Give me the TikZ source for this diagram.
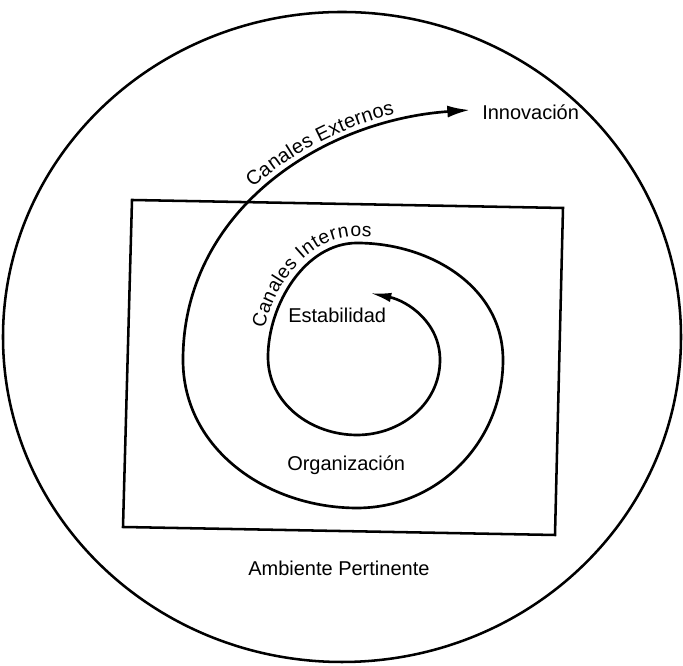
\documentclass[tikz,border=0pt]{standalone}
\usepackage{fontspec}
\setmainfont{Liberation Sans}
\usetikzlibrary{arrows.meta,decorations.text}
\begin{document}
\begin{tikzpicture}[x=0.75pt,y=0.75pt,
  lbl/.style={font=\fontsize{15}{18}\selectfont, inner sep=0pt, anchor=base west},
  ln/.style={line width=1.9pt},
  spiral/.style={line width=2pt, {Latex[length=16pt,width=7pt]}-{Latex[length=17pt,width=9pt]}},
  curvetext/.style={decorate, decoration={text along path, raise=#1}}]
\useasboundingbox (0,0) rectangle (683,666);
% outer environment
\draw[ln] (342,329) ellipse [x radius=339, y radius=325];
% organisation boundary
\draw[ln] (132,466) -- (563,458) -- (555,131) -- (123,139) -- cycle;
% labels
\node[lbl] (innov) at (482,546) {Innovación};
\node[lbl] (estab) at (288,343) {Estabilidad};
\node[lbl] (organ) at (287,195) {Organización};
\node[lbl] (amb) at (248,90) {Ambiente Pertinente};
% spiral
\coordinate (sin) at (370,373);
\coordinate (sout) at ([xshift=-9]innov.west |- 0,556);
\draw[spiral] (sin) to[out=-12,in=90] (440,306)
  to[out=-90,in=0] (357,231)
  to[out=180,in=-90] (268,309)
  to[out=90,in=180,looseness=0.92] (357,423)
  to[out=0,in=90] (503,306)
  to[out=-90,in=0] (357,158)
  to[out=180,in=-90] (183,306)
  to[out=90,in=184] (sout);
% text along the spiral
\path[curvetext=6pt, decoration={text align={left indent=141pt},
      text={|\fontsize{15}{18}\selectfont|Canales Externos}}]
  (183,306) to[out=90,in=184] (sout);
\path[curvetext=5pt, decoration={text align={left indent=20pt},
      text={|\fontsize{14.5}{18}\selectfont|Canales Internos}}]
  (268,309) to[out=90,in=180,looseness=0.92] (357,423) to[out=0,in=90] (503,306);
\end{tikzpicture}
\end{document}
